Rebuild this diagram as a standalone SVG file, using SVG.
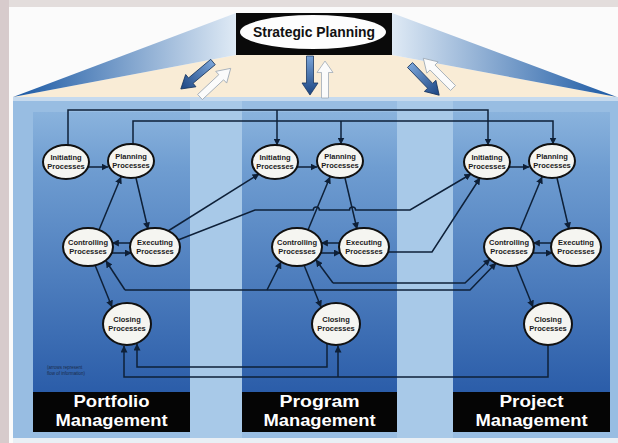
<svg xmlns="http://www.w3.org/2000/svg" width="618" height="443" viewBox="0 0 618 443">
<defs>
<style>
.node ellipse{fill:#f5f5f1;stroke:#111;stroke-width:2}
.node text{font-family:"Liberation Sans Narrow","Liberation Sans",Arial,sans-serif;font-weight:bold;font-size:7.5px;fill:#1b1b1b;text-anchor:middle}
.conn path{fill:none;stroke:#0e2038;stroke-width:1.5;marker-end:url(#ah)}
.lbl{font-family:"Liberation Sans",Arial,sans-serif;font-weight:bold;font-size:16px;fill:#fff;text-anchor:middle}
.dark{fill:url(#gDark);stroke:#16345e;stroke-width:0.8}
.white{fill:#fbfbfb;stroke:#9aa6b3;stroke-width:0.8}
</style>
<marker id="ah" markerWidth="7" markerHeight="7" refX="6.5" refY="3.5" orient="auto" markerUnits="userSpaceOnUse"><path d="M0,0 L7,3.5 L0,7 Z" fill="#0e2038"/></marker>
<linearGradient id="gDark" x1="0" y1="0" x2="1" y2="0"><stop offset="0" stop-color="#7aa4d8"/><stop offset="1" stop-color="#1b4583"/></linearGradient>
<linearGradient id="gWingL" gradientUnits="userSpaceOnUse" x1="236" y1="0" x2="13" y2="0"><stop offset="0" stop-color="#dfeaf5"/><stop offset="1" stop-color="#1a58a3"/></linearGradient>
<linearGradient id="gWingR" gradientUnits="userSpaceOnUse" x1="392" y1="0" x2="617" y2="0"><stop offset="0" stop-color="#dfeaf5"/><stop offset="1" stop-color="#1a58a3"/></linearGradient>
<linearGradient id="gCol" x1="0" y1="0" x2="0" y2="1"><stop offset="0" stop-color="#8ab3dd"/><stop offset="0.2" stop-color="#6f9dd1"/><stop offset="1" stop-color="#2b5da9"/></linearGradient>
<path id="fat" d="M0,-3.5 L29,-3.5 L29,-8 L42,0 L29,8 L29,3.5 L0,3.5 Z"/>
</defs>

<!-- background -->
<rect x="0" y="0" width="618" height="443" fill="#fbfbfb"/>
<rect x="0" y="0" width="618" height="7" fill="#e3dddc"/>
<rect x="0" y="0" width="9" height="443" fill="#d7cbcc"/>

<!-- roof -->
<polygon points="13,97 236,55 392,55 617,97" fill="#f9ecd6"/>
<polygon points="236,13 236,55 13,97" fill="url(#gWingL)"/>
<polygon points="392,13 392,55 617,97" fill="url(#gWingR)"/>

<!-- main panel -->
<rect x="13" y="97" width="605" height="341" fill="#98bde2"/>
<rect x="13" y="97" width="605" height="4" fill="#c6daee"/>
<rect x="190" y="101" width="52" height="337" fill="#a8c9e8"/>
<rect x="397" y="101" width="56" height="337" fill="#a8c9e8"/>
<rect x="13" y="438" width="605" height="5" fill="#e9eff5"/>
<rect x="33" y="112" width="157" height="280" fill="url(#gCol)"/>
<rect x="242" y="112" width="155" height="280" fill="url(#gCol)"/>
<rect x="453" y="112" width="157" height="280" fill="url(#gCol)"/>

<!-- roof arrows -->
<g id="roof-arrows">
<use href="#fat" class="dark" transform="translate(213,62) rotate(140)"/>
<use href="#fat" class="white" transform="translate(200,97) rotate(-43)"/>
<use href="#fat" class="dark" transform="translate(310,56) rotate(90) scale(0.93,1)"/>
<use href="#fat" class="white" transform="translate(325,98) rotate(-90) scale(0.88,1)"/>
<use href="#fat" class="dark" transform="translate(410,65) rotate(46)"/>
<use href="#fat" class="white" transform="translate(453,88) rotate(-135)"/>
</g>

<!-- strategic planning -->
<g id="strategic">
<rect x="236" y="13" width="156" height="42" fill="#0a0a0a"/>
<ellipse cx="313" cy="32" rx="73" ry="17" fill="#fdfdfd"/>
<text x="314" y="37" font-family="Liberation Sans, Arial, sans-serif" font-weight="bold" font-size="14" fill="#111" text-anchor="middle" textLength="122" lengthAdjust="spacingAndGlyphs">Strategic Planning</text>
</g>

<!-- labels -->
<g id="label-portfolio"><rect x="33" y="392" width="157" height="40" fill="#050505"/><text class="lbl" x="111.5" y="407" textLength="76" lengthAdjust="spacingAndGlyphs">Portfolio</text><text class="lbl" x="111.5" y="426" textLength="112" lengthAdjust="spacingAndGlyphs">Management</text></g>
<g id="label-program"><rect x="242" y="392" width="155" height="40" fill="#050505"/><text class="lbl" x="319.5" y="407" textLength="80" lengthAdjust="spacingAndGlyphs">Program</text><text class="lbl" x="319.5" y="426" textLength="112" lengthAdjust="spacingAndGlyphs">Management</text></g>
<g id="label-project"><rect x="453" y="392" width="157" height="40" fill="#050505"/><text class="lbl" x="531.5" y="407" textLength="64" lengthAdjust="spacingAndGlyphs">Project</text><text class="lbl" x="531.5" y="426" textLength="112" lengthAdjust="spacingAndGlyphs">Management</text></g>

<text x="47" y="369" font-family="Liberation Sans, Arial, sans-serif" font-size="4.5" fill="#1a2c4a">(arrows represent</text>
<text x="47" y="375" font-family="Liberation Sans, Arial, sans-serif" font-size="4.5" fill="#1a2c4a">flow of information)</text>

<!-- connectors -->
<g id="connectors" class="conn">
<path d="M68,145 V110 H488 V145"/>
<path d="M277,110 V145"/>
<path d="M133,144 V121 H553 V144"/>
<path d="M341,121 V144"/>
<!-- portfolio internal -->
<path d="M88,167 H108"/>
<path d="M136,178 L148,229"/>
<path d="M99,230 L121,177"/>
<path d="M130.6,243 H112.4"/>
<path d="M111.7,253 H131.3"/>
<path d="M95,265 L112,307"/>
<!-- program internal -->
<path d="M297,167 H317"/>
<path d="M345,178 L357,229"/>
<path d="M308,230 L330,177"/>
<path d="M339.6,243 H321.4"/>
<path d="M320.7,253 H340.3"/>
<path d="M304,265 L321,307"/>
<!-- project internal -->
<path d="M509,167 H529"/>
<path d="M557,178 L569,229"/>
<path d="M520,230 L542,177"/>
<path d="M551.6,243 H533.4"/>
<path d="M532.7,253 H552.3"/>
<path d="M516,265 L533,307"/>
<!-- cross column -->
<path d="M168,231 L259,174"/>
<path d="M178,240 L255,210 H313.3 a3,3 0 0 1 6,0 H349.5 a3,3 0 0 1 6,0 H410 L471,174"/>
<path d="M388,252 H432 L480,178"/>
<path d="M125,290 L106,261"/>
<path d="M125,290 H470 L496,263"/>
<path d="M267,290 L281,262"/>
<path d="M333,283 L316,260"/>
<path d="M333,283 H465 L490,259"/>
<path d="M327,343 V367 H137 V344"/>
<path d="M548,345 V377 H124 V346"/>
<path d="M338,377 V346"/>
</g>

<!-- portfolio nodes -->
<g id="pf-init" class="node"><ellipse cx="66" cy="162" rx="23" ry="17"/><text x="66" y="160">Initiating</text><text x="66" y="168.5">Processes</text></g>
<g id="pf-plan" class="node"><ellipse cx="131" cy="161" rx="23" ry="17"/><text x="131" y="159">Planning</text><text x="131" y="167.5">Processes</text></g>
<g id="pf-ctrl" class="node"><ellipse cx="88" cy="247" rx="25" ry="19"/><text x="88" y="245">Controlling</text><text x="88" y="253.5">Processes</text></g>
<g id="pf-exec" class="node"><ellipse cx="155" cy="247" rx="25" ry="19"/><text x="155" y="245">Executing</text><text x="155" y="253.5">Processes</text></g>
<g id="pf-close" class="node"><ellipse cx="127" cy="324" rx="24" ry="21"/><text x="127" y="322">Closing</text><text x="127" y="330.5">Processes</text></g>

<!-- program nodes -->
<g id="pg-init" class="node"><ellipse cx="275" cy="162" rx="23" ry="17"/><text x="275" y="160">Initiating</text><text x="275" y="168.5">Processes</text></g>
<g id="pg-plan" class="node"><ellipse cx="340" cy="161" rx="23" ry="17"/><text x="340" y="159">Planning</text><text x="340" y="167.5">Processes</text></g>
<g id="pg-ctrl" class="node"><ellipse cx="297" cy="247" rx="25" ry="19"/><text x="297" y="245">Controlling</text><text x="297" y="253.5">Processes</text></g>
<g id="pg-exec" class="node"><ellipse cx="364" cy="247" rx="25" ry="19"/><text x="364" y="245">Executing</text><text x="364" y="253.5">Processes</text></g>
<g id="pg-close" class="node"><ellipse cx="336" cy="324" rx="24" ry="21"/><text x="336" y="322">Closing</text><text x="336" y="330.5">Processes</text></g>

<!-- project nodes -->
<g id="pj-init" class="node"><ellipse cx="487" cy="162" rx="23" ry="17"/><text x="487" y="160">Initiating</text><text x="487" y="168.5">Processes</text></g>
<g id="pj-plan" class="node"><ellipse cx="552" cy="161" rx="23" ry="17"/><text x="552" y="159">Planning</text><text x="552" y="167.5">Processes</text></g>
<g id="pj-ctrl" class="node"><ellipse cx="509" cy="247" rx="25" ry="19"/><text x="509" y="245">Controlling</text><text x="509" y="253.5">Processes</text></g>
<g id="pj-exec" class="node"><ellipse cx="576" cy="247" rx="25" ry="19"/><text x="576" y="245">Executing</text><text x="576" y="253.5">Processes</text></g>
<g id="pj-close" class="node"><ellipse cx="548" cy="324" rx="24" ry="21"/><text x="548" y="322">Closing</text><text x="548" y="330.5">Processes</text></g>
</svg>
